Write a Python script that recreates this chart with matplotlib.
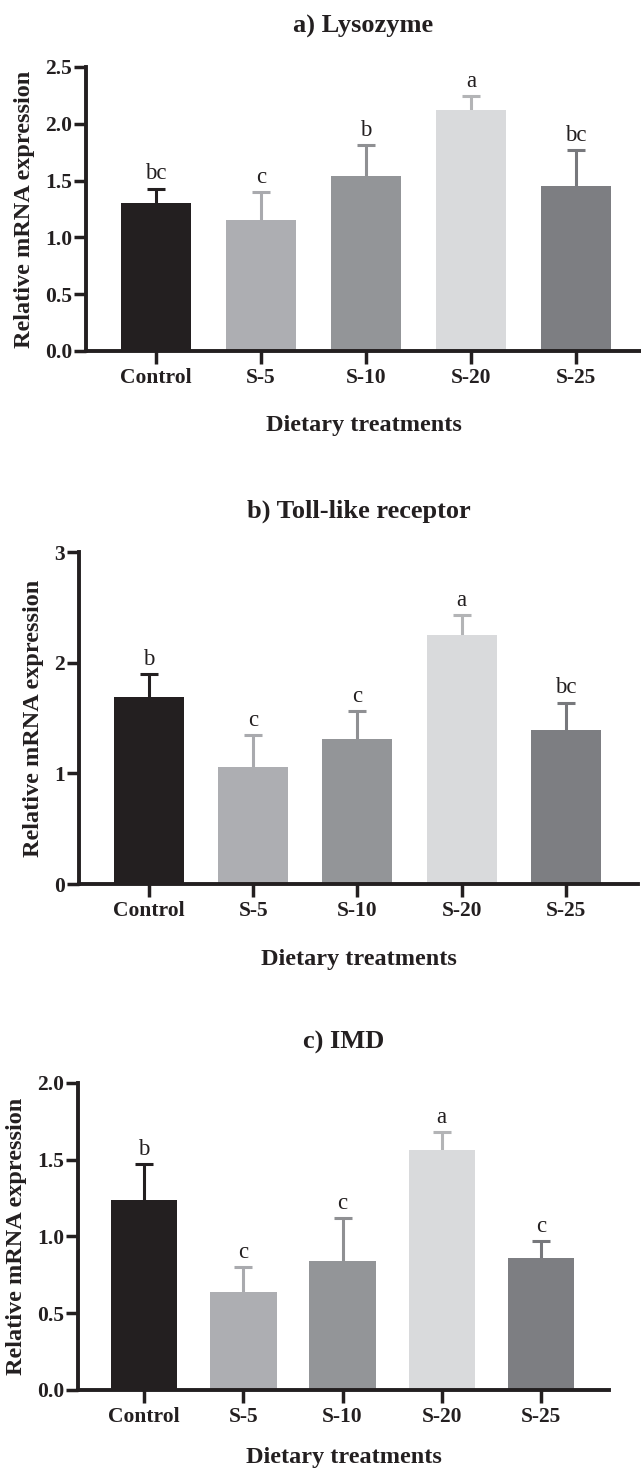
import numpy as np
import matplotlib
matplotlib.use("Agg")
import matplotlib.pyplot as plt

plt.rcParams["font.family"] = ["Liberation Serif", "DejaVu Serif"]

treatments = ["Control", "S-5", "S-10", "S-20", "S-25"]

lysozyme_mean = [1.30, 1.15, 1.54, 2.12, 1.45]
lysozyme_err = [0.13, 0.25, 0.27, 0.12, 0.32]
lysozyme_letters = ["bc", "c", "b", "a", "bc"]

tlr_mean = [1.69, 1.06, 1.31, 2.25, 1.39]
tlr_err = [0.21, 0.29, 0.25, 0.18, 0.25]
tlr_letters = ["b", "c", "c", "a", "bc"]

imd_mean = [1.24, 0.64, 0.84, 1.56, 0.86]
imd_err = [0.23, 0.16, 0.28, 0.12, 0.11]
imd_letters = ["b", "c", "c", "a", "c"]

bar_colors = ["#231f20", "#adaeb2", "#939598", "#d9dadc", "#7d7e82"]
err_colors = ["#231f20", "#a9aaae", "#8f9093", "#b3b4b6", "#77787c"]
ink = "#231f20"

fig = plt.figure(figsize=(6.41, 14.71), dpi=100)

panels = [
    dict(title="a) Lysozyme", mean=lysozyme_mean, err=lysozyme_err,
         letters=lysozyme_letters, ymax=2.5, yticks=np.arange(0, 2.51, 0.5),
         fmt="{:.1f}", rect=[0.1342, 0.7614, 0.8658, 0.1931], xlim=(-0.667, 4.62),
         xpad=20),
    dict(title="b) Toll-like receptor", mean=tlr_mean, err=tlr_err,
         letters=tlr_letters, ymax=3, yticks=[0, 1, 2, 3],
         fmt="{:.0f}", rect=[0.1232, 0.3990, 0.8721, 0.2257], xlim=(-0.67, 4.69),
         xpad=20),
    dict(title="c) IMD", mean=imd_mean, err=imd_err,
         letters=imd_letters, ymax=2.0, yticks=np.arange(0, 2.01, 0.5),
         fmt="{:.1f}", rect=[0.1217, 0.0551, 0.8284, 0.2087], xlim=(-0.665, 4.685),
         xpad=15),
]

x = np.arange(len(treatments))

for p in panels:
    ax = fig.add_axes(p["rect"])
    ax.bar(x, p["mean"], width=0.67, color=bar_colors, zorder=2)
    for i in range(len(treatments)):
        ax.errorbar(x[i], p["mean"][i], yerr=p["err"][i], color=err_colors[i],
                    elinewidth=2.2, capsize=6.5, capthick=2.2, zorder=1)
        ax.annotate(p["letters"][i], xy=(x[i], p["mean"][i] + p["err"][i]),
                    xytext=(0, 3), textcoords="offset points",
                    ha="center", va="bottom", fontsize=16.5, color=ink)

    ax.set_xlim(*p["xlim"])
    ax.set_ylim(0, p["ymax"])
    ax.set_xticks(x)
    ax.set_xticklabels(treatments, fontsize=15.5, fontweight="bold", color=ink)
    ax.set_yticks(p["yticks"])
    ax.set_yticklabels([p["fmt"].format(v) for v in p["yticks"]],
                       fontsize=15.5, fontweight="bold", color=ink)

    for side in ["top", "right"]:
        ax.spines[side].set_visible(False)
    for side in ["left", "bottom"]:
        ax.spines[side].set_linewidth(2.8)
        ax.spines[side].set_color(ink)
    ax.tick_params(axis="y", length=8.5, width=2.5, pad=1.5, color=ink)
    ax.tick_params(axis="x", length=9, width=2.5, pad=3, color=ink)

    ax.set_title(p["title"], fontsize=19, fontweight="bold", pad=25, color=ink)
    ax.set_xlabel("Dietary treatments", fontsize=17.5, fontweight="bold",
                  labelpad=p["xpad"], color=ink)
    ax.set_ylabel("Relative mRNA expression", fontsize=17.5, fontweight="bold",
                  labelpad=7, color=ink)

fig.savefig("out.png", dpi=100)
